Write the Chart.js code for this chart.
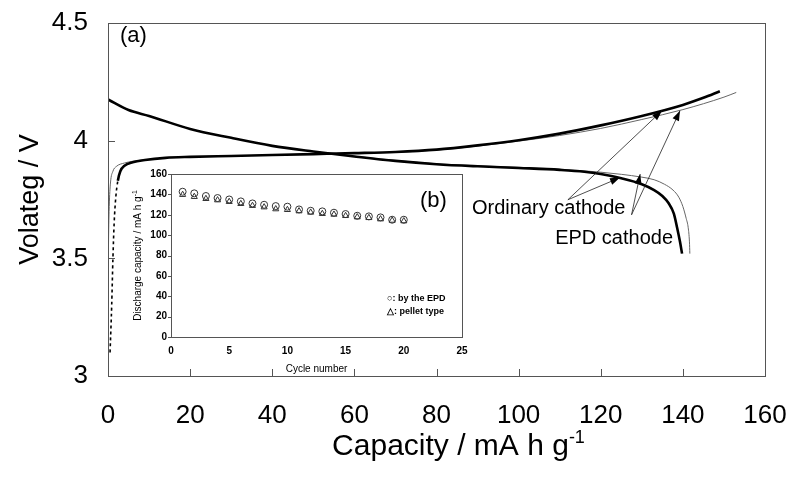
<!DOCTYPE html>
<html><head><meta charset="utf-8">
<script src="https://cdn.jsdelivr.net/npm/chart.js@4.4.1/dist/chart.umd.min.js"></script>
<style>
html,body{margin:0;padding:0;background:#fff;}
#wrap{position:relative;width:789px;height:477px;background:#fff;}
#main{position:absolute;left:0;top:0;}
#inset{position:absolute;left:100px;top:150px;}
</style></head><body>
<div id="wrap"><canvas id="main" width="789" height="477"></canvas><canvas id="inset" width="380" height="230"></canvas></div>
<script>
// ---------- main panel (a) data ----------
const ordChargeCap = [0.5, 0.9, 1.2, 1.5, 1.9, 2.4, 3.0, 4.0, 6, 9, 14, 20, 30, 40, 50, 60, 70, 80, 90, 100, 110, 120, 130, 140, 145, 149];
const ordChargeV   = [3.10, 3.30, 3.50, 3.65, 3.76, 3.83, 3.87, 3.893, 3.908, 3.918, 3.927, 3.931, 3.935, 3.939, 3.943, 3.947, 3.952, 3.962, 3.98, 4.002, 4.03, 4.065, 4.105, 4.152, 4.182, 4.21];
const ordDashedPoints = 5; // first segments drawn dashed
const epdChargeCap = [0.0, 0.15, 0.3, 0.6, 1.2, 2.0, 4.0, 8, 14, 20, 30, 40, 50, 60, 70, 80, 90, 100, 110, 120, 130, 140, 150, 153];
const epdChargeV   = [3.30, 3.60, 3.72, 3.82, 3.87, 3.89, 3.905, 3.917, 3.926, 3.931, 3.935, 3.939, 3.943, 3.947, 3.951, 3.96, 3.977, 3.998, 4.022, 4.052, 4.09, 4.132, 4.185, 4.205];
const ordDischCap = [0, 5, 10, 20, 30, 40, 50, 60, 70, 80, 90, 100, 110, 116, 120, 125, 130, 133, 135, 136.5, 137.8, 138.6, 139.3, 139.8];
const ordDischV   = [4.175, 4.13, 4.105, 4.05, 4.012, 3.978, 3.954, 3.933, 3.914, 3.9, 3.891, 3.884, 3.876, 3.868, 3.858, 3.84, 3.815, 3.79, 3.765, 3.735, 3.69, 3.63, 3.57, 3.52];
const epdDischCap = [0, 5, 10, 20, 30, 40, 50, 60, 70, 80, 90, 100, 110, 115, 120, 125, 130, 133, 135.5, 137.6, 139, 140, 140.8, 141.3, 141.6, 141.7];
const epdDischV   = [4.175, 4.13, 4.105, 4.05, 4.012, 3.978, 3.954, 3.934, 3.916, 3.902, 3.893, 3.887, 3.879, 3.873, 3.866, 3.857, 3.845, 3.834, 3.815, 3.79, 3.76, 3.72, 3.67, 3.63, 3.57, 3.52];
const xTickLabels = ['0','20','40','60','80','100','120','140','160'];
const yTickLabels = ['3','3.5','4','4.5'];

// ---------- inset panel (b) data ----------
const cycles = [1,2,3,4,5,6,7,8,9,10,11,12,13,14,15,16,17,18,19,20];
const epdCapacity    = [142.6,141,138.4,136.4,135,133.1,131.1,129.8,128.5,127.9,125.2,123.9,123.3,122,120.7,119,118.4,117.4,115.1,115.1];
const pelletCapacity = [139.7,137.7,135.7,134.4,132.8,130.8,128.9,127.5,125.6,124.9,123.6,122.3,121,120.3,119,117.7,117,115.7,114.4,113.8];
const insetXTickLabels = ['0','5','10','15','20','25'];
const insetYTickLabels = ['0','20','40','60','80','100','120','140','160'];

// annotations in data units (capacity, voltage)
const annotations = [
  {text:'Ordinary cathode', at:[88.65, 3.688], from:[112.0, 3.749], to:[[134.9, 4.127],[124.7, 3.843]]},
  {text:'EPD cathode', at:[108.9, 3.560], from:[127.5, 3.685], to:[[139.3, 4.127],[129.6, 3.858]]}
];

const FONT = "'Liberation Sans', Arial, Helvetica, sans-serif";
const pts = (xs, ys) => xs.map((x, i) => ({x: x, y: ys[i]}));
const noPad = s => { s.paddingTop = 0; s.paddingBottom = 0; s.paddingLeft = 0; s.paddingRight = 0; };

function drawArrow(ctx, x0, y0, x1, y1) {
  ctx.beginPath(); ctx.moveTo(x0, y0); ctx.lineTo(x1, y1); ctx.stroke();
  const a = Math.atan2(y1 - y0, x1 - x0), L = 10, W = 3.5;
  ctx.beginPath();
  ctx.moveTo(x1, y1);
  ctx.lineTo(x1 - L*Math.cos(a) + W*Math.sin(a), y1 - L*Math.sin(a) - W*Math.cos(a));
  ctx.lineTo(x1 - L*Math.cos(a) - W*Math.sin(a), y1 - L*Math.sin(a) + W*Math.cos(a));
  ctx.closePath(); ctx.fill();
}

function drawSupText(ctx, base, sup, cx, cy, size, supSize, rise, rotate) {
  ctx.save();
  ctx.translate(cx, cy);
  if (rotate) ctx.rotate(-Math.PI/2);
  ctx.font = size + 'px ' + FONT;
  const wb = ctx.measureText(base).width;
  ctx.font = supSize + 'px ' + FONT;
  const ws = ctx.measureText(sup).width;
  const start = -(wb + ws)/2;
  ctx.textBaseline = 'alphabetic'; ctx.textAlign = 'left'; ctx.fillStyle = '#000';
  ctx.font = size + 'px ' + FONT;
  ctx.fillText(base, start, 0);
  ctx.font = supSize + 'px ' + FONT;
  ctx.fillText(sup, start + wb, -rise);
  ctx.restore();
}

const mainPlugin = {
  id: 'mainDeco',
  afterDraw(chart) {
    const ctx = chart.ctx, ca = chart.chartArea, xs = chart.scales.x, ys = chart.scales.y;
    ctx.save();
    ctx.strokeStyle = '#555'; ctx.lineWidth = 1;
    ctx.strokeRect(Math.round(ca.left) + 0.5, Math.round(ca.top) + 0.5, Math.round(ca.right - ca.left), Math.round(ca.bottom - ca.top));
    ctx.beginPath();
    xs.ticks.forEach(t => { const px = Math.round(xs.getPixelForValue(t.value)) + 0.5; ctx.moveTo(px, ca.bottom); ctx.lineTo(px, ca.bottom - 7); });
    ys.ticks.forEach(t => { const py = Math.round(ys.getPixelForValue(t.value)) + 0.5; ctx.moveTo(ca.left, py); ctx.lineTo(ca.left + 7, py); });
    ctx.stroke();
    // titles
    drawSupText(ctx, 'Capacity / mA h g', '-1', (ca.left + ca.right)/2 + 22, 455, 30, 18, 12, false);
    ctx.fillStyle = '#000';
    ctx.save(); ctx.translate(38, (ca.top + ca.bottom)/2); ctx.rotate(-Math.PI/2);
    ctx.font = '27px ' + FONT; ctx.textAlign = 'center'; ctx.textBaseline = 'alphabetic';
    ctx.fillText('Volateg / V', 0, 0); ctx.restore();
    // panel label
    ctx.font = '22px ' + FONT; ctx.textAlign = 'left'; ctx.textBaseline = 'alphabetic';
    ctx.fillText('(a)', 120, 42);
    // annotations
    ctx.strokeStyle = '#222'; ctx.fillStyle = '#000'; ctx.lineWidth = 0.8;
    annotations.forEach(a => {
      const fx = xs.getPixelForValue(a.from[0]), fy = ys.getPixelForValue(a.from[1]);
      a.to.forEach(t => drawArrow(ctx, fx, fy, xs.getPixelForValue(t[0]), ys.getPixelForValue(t[1])));
      ctx.font = '20px ' + FONT;
      ctx.fillText(a.text, xs.getPixelForValue(a.at[0]), ys.getPixelForValue(a.at[1]));
    });
    ctx.restore();
  }
};

new Chart(document.getElementById('main'), {
  type: 'scatter',
  data: { datasets: [
    {label:'Ordinary cathode charge', data: pts(ordChargeCap, ordChargeV), showLine:true, borderColor:'#000', borderWidth:2.6, pointRadius:0, cubicInterpolationMode:'monotone',
      segment:{borderDash: c => c.p0DataIndex < ordDashedPoints ? [3,3] : undefined, borderWidth: c => c.p0DataIndex < ordDashedPoints ? 1.6 : 2.6}},
    {label:'EPD cathode charge', data: pts(epdChargeCap, epdChargeV), showLine:true, borderColor:'#666', borderWidth:1, pointRadius:0, cubicInterpolationMode:'monotone'},
    {label:'Ordinary cathode discharge', data: pts(ordDischCap, ordDischV), showLine:true, borderColor:'#000', borderWidth:2.6, pointRadius:0, cubicInterpolationMode:'monotone'},
    {label:'EPD cathode discharge', data: pts(epdDischCap, epdDischV), showLine:true, borderColor:'#666', borderWidth:1, pointRadius:0, cubicInterpolationMode:'monotone'}
  ]},
  options: {
    responsive:false, animation:false, devicePixelRatio:1,
    layout:{padding:{left:0, top:23, right:24, bottom:0}},
    plugins:{legend:{display:false}, tooltip:{enabled:false}},
    scales:{
      x:{type:'linear', min:0, max:160,
        ticks:{stepSize:20, padding:24, color:'#000', font:{family:FONT, size:26}, maxRotation:0, callback:(v,i)=>xTickLabels[i]},
        grid:{display:false, drawTicks:false}, border:{display:false},
        afterFit: s => { s.height = 101; noPad(s); }},
      y:{type:'linear', min:3, max:4.5,
        ticks:{stepSize:0.5, padding:20, color:'#000', font:{family:FONT, size:26}, callback:(v,i)=>yTickLabels[i]},
        grid:{display:false, drawTicks:false}, border:{display:false},
        afterFit: s => { s.width = 108; noPad(s); }}
    }
  },
  plugins:[mainPlugin]
});

const insetPlugin = {
  id: 'insetDeco',
  afterDraw(chart) {
    const ctx = chart.ctx, ca = chart.chartArea, ys = chart.scales.y;
    ctx.save();
    ctx.strokeStyle = '#555'; ctx.lineWidth = 1;
    ctx.strokeRect(Math.round(ca.left) + 0.5, Math.round(ca.top) + 0.5, Math.round(ca.right - ca.left), Math.round(ca.bottom - ca.top));
    ctx.beginPath();
    ys.ticks.forEach(t => { const py = Math.round(ys.getPixelForValue(t.value)) + 0.5; ctx.moveTo(ca.left, py); ctx.lineTo(ca.left - 3, py); });
    ctx.stroke();
    ctx.fillStyle = '#000';
    ctx.font = '10px ' + FONT; ctx.textAlign = 'center'; ctx.textBaseline = 'alphabetic';
    ctx.fillText('Cycle number', (ca.left + ca.right)/2, 222);
    drawSupText(ctx, 'Discharge capacity / mA h g', '-1', 41, (ca.top + ca.bottom)/2, 10, 7, 4, true);
    ctx.font = '22px ' + FONT; ctx.textAlign = 'left';
    ctx.fillText('(b)', 320, 57);
    ctx.font = 'bold 9px ' + FONT;
    ctx.fillText('\u25CB: by the EPD', 287, 151);
    ctx.fillText('\u25B3: pellet type', 287, 164);
    ctx.restore();
  }
};

new Chart(document.getElementById('inset'), {
  type: 'scatter',
  data: { datasets: [
    {label:'by the EPD', data: pts(cycles, epdCapacity), pointStyle:'circle', pointRadius:3.5, borderColor:'#333', backgroundColor:'rgba(255,255,255,0)', pointBorderWidth:1},
    {label:'pellet type', data: pts(cycles, pelletCapacity), pointStyle:'triangle', pointRadius:3.5, borderColor:'#333', backgroundColor:'rgba(255,255,255,0)', pointBorderWidth:1}
  ]},
  options: {
    responsive:false, animation:false, devicePixelRatio:1,
    layout:{padding:{left:0, top:24, right:18, bottom:0}},
    plugins:{legend:{display:false}, tooltip:{enabled:false}},
    scales:{
      x:{type:'linear', min:0, max:25,
        ticks:{stepSize:5, padding:8, color:'#000', font:{family:FONT, size:10, weight:'bold'}, maxRotation:0, callback:(v,i)=>insetXTickLabels[i]},
        grid:{display:false, drawTicks:false}, border:{display:false},
        afterFit: s => { s.height = 43; noPad(s); }},
      y:{type:'linear', min:0, max:160,
        ticks:{stepSize:20, padding:4, color:'#000', font:{family:FONT, size:10, weight:'bold'}, callback:(v,i)=>insetYTickLabels[i]},
        grid:{display:false, drawTicks:false}, border:{display:false},
        afterFit: s => { s.width = 71; noPad(s); }}
    }
  },
  plugins:[insetPlugin]
});
</script>
</body></html>
